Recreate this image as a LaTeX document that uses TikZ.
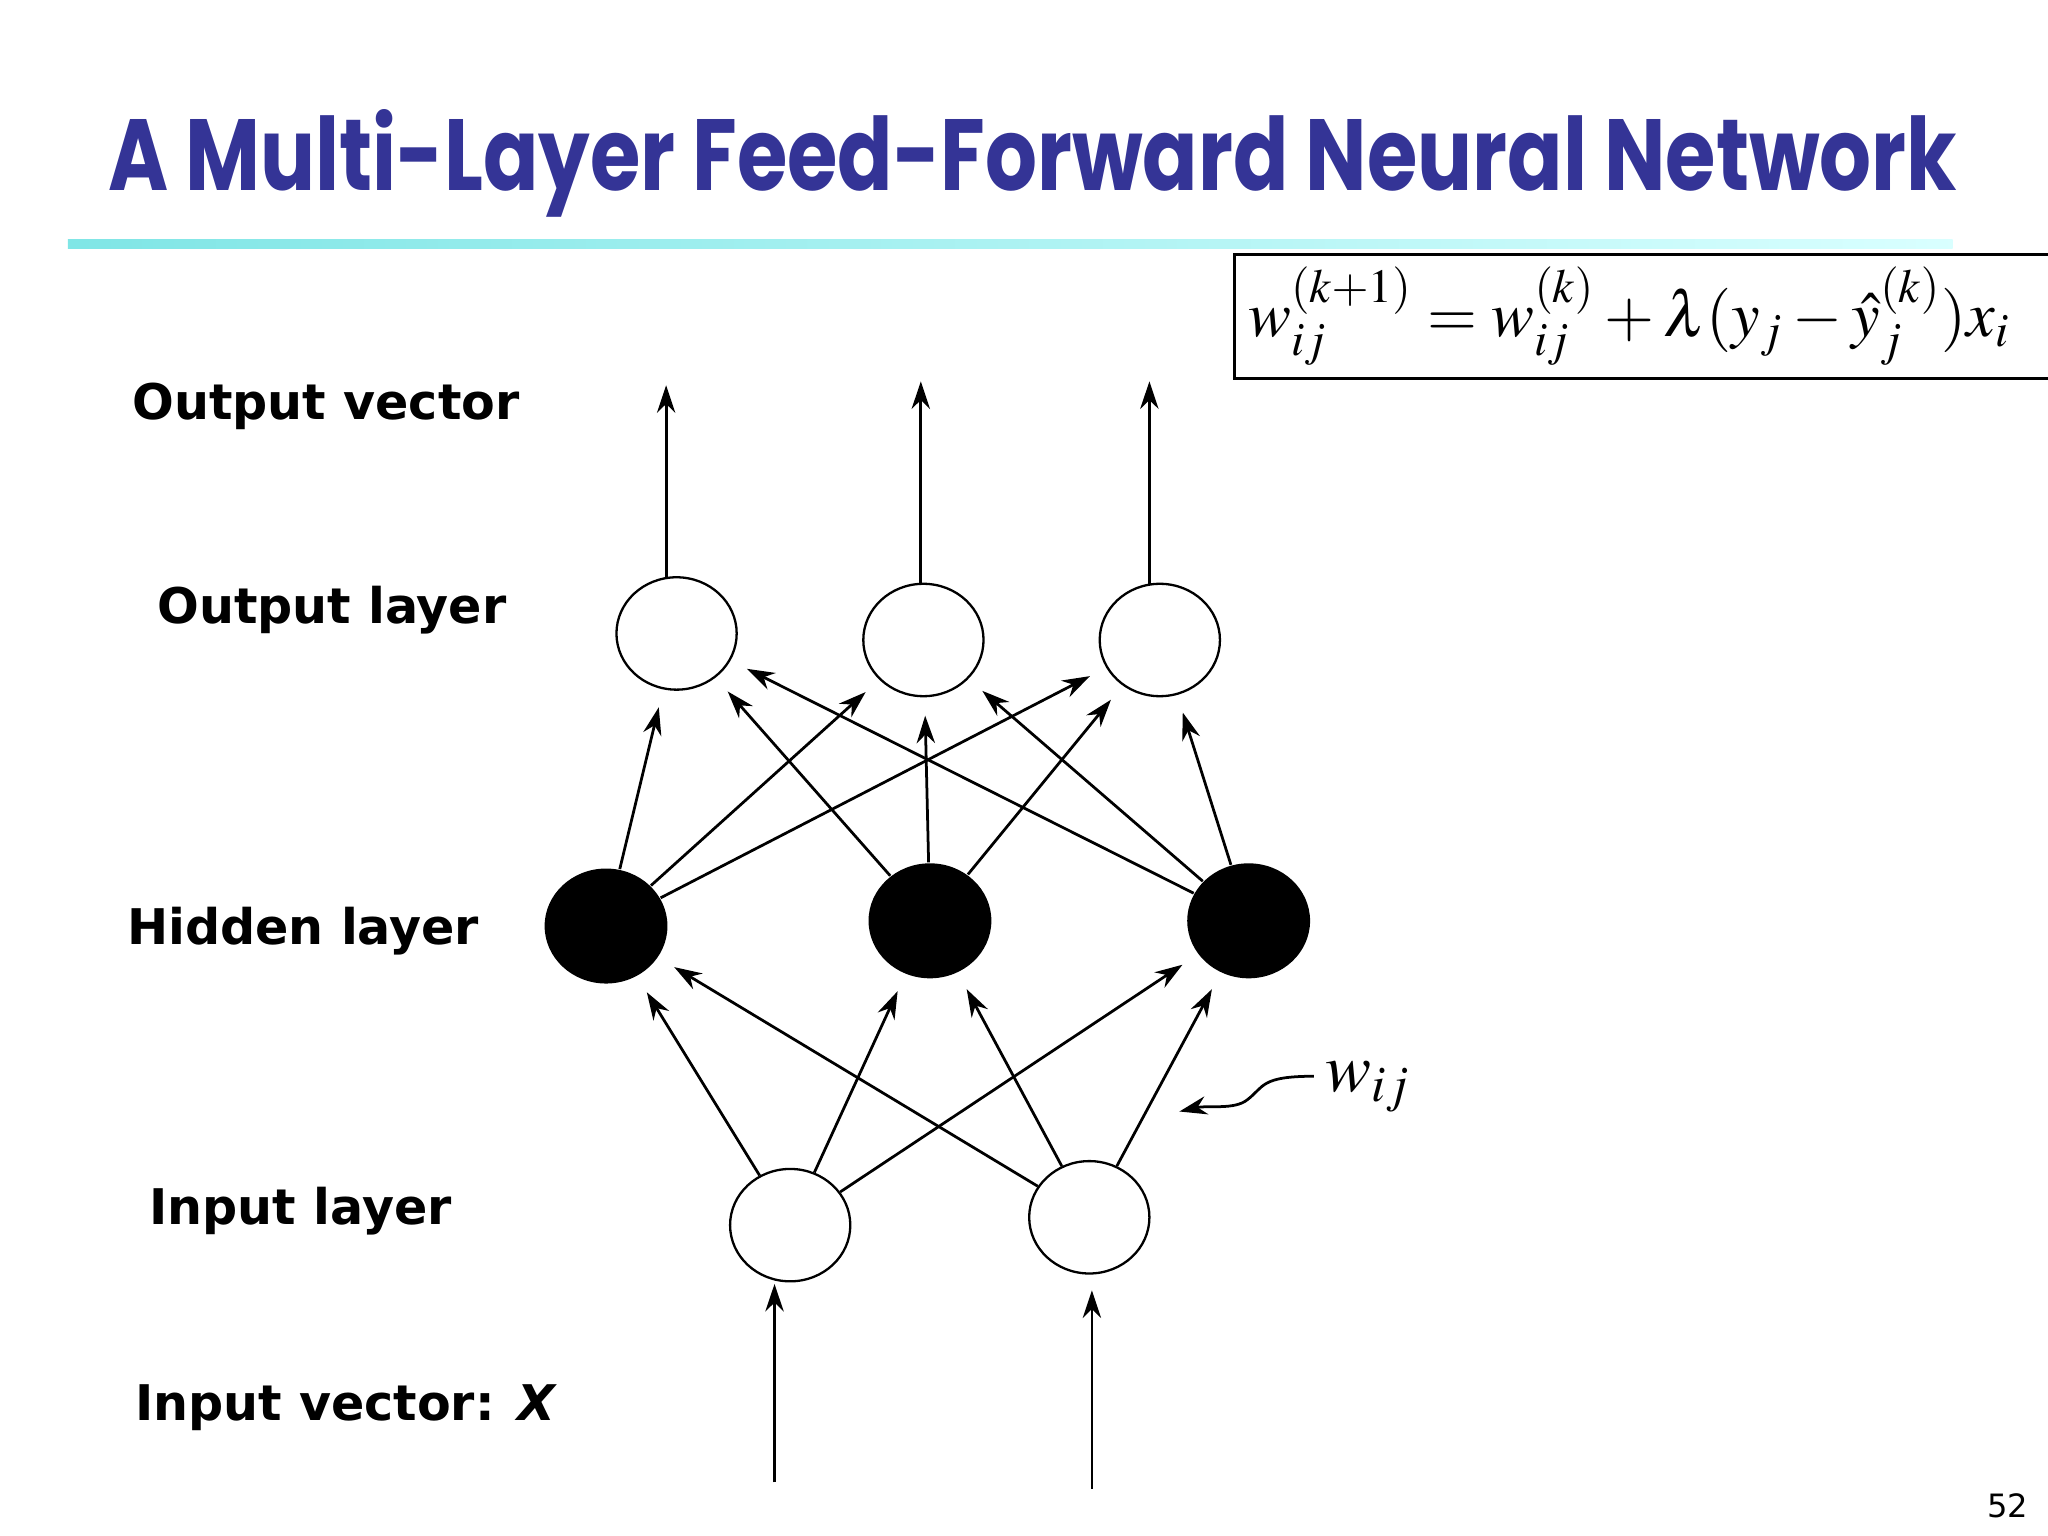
\documentclass[tikz,border=0pt]{standalone}
\usepackage{mathptmx}
\usepackage{fontspec}
\setmainfont{DejaVu Sans}
\newfontfamily\titlef{Poppins}
\usetikzlibrary{shapes.geometric,arrows.meta}
\definecolor{titleblue}{RGB}{52,52,150}
\begin{document}
\begin{tikzpicture}[x=0.01cm,y=-0.01cm,
  neuron/.style={ellipse,draw,line width=0.5pt,minimum width=0.92cm,minimum height=0.86cm,inner sep=0pt},
  hid/.style={ellipse,fill=black,minimum width=0.94cm,minimum height=0.88cm,inner sep=0pt},
  conn/.style={-{Stealth[length=6pt,width=4pt]},line width=0.6pt,shorten >=4pt},
  lab/.style={font=\fontsize{10.7pt}{13pt}\bfseries,anchor=west}]
\useasboundingbox (0,0) rectangle (1568,1176);
% title
\node[anchor=west,inner sep=0pt,text=titleblue] (title) at (82,125) {\resizebox{14.15cm}{0.62cm}{\titlef\bfseries A Multi-Layer Feed-Forward Neural Network}};
\shade[left color=teal!40!cyan!50,right color=cyan!15] (52,183) rectangle (1495,190);
% formula box
\draw[line width=0.6pt] (945,195) rectangle (1600,290);
\node[anchor=west,inner sep=0pt] (formula) at (955,242) {\fontsize{14pt}{17pt}\selectfont$w_{ij}^{(k+1)} = w_{ij}^{(k)} + \lambda(y_j - \hat{y}_j^{(k)})x_i$};
% labels
\node[lab] (l1) at (89,311) {Output vector};
\node[lab] (l2) at (108,467) {Output layer};
\node[lab] (l3) at (85,713) {Hidden layer};
\node[lab] (l4) at (102,927) {Input layer};
\node[lab] (l5) at (91,1078) {Input vector: \textit{X}};
% nodes
\node[neuron] (o1) at (518,485) {};
\node[neuron] (o2) at (707,490) {};
\node[neuron] (o3) at (888,490) {};
\node[hid] (h1) at (464,709) {};
\node[hid] (h2) at (712,705) {};
\node[hid] (h3) at (956,705) {};
\node[neuron] (i1) at (605,938) {};
\node[neuron] (i2) at (834,932) {};
% output vector
\coordinate (t1) at (510,295); \coordinate (t2) at (705,292); \coordinate (t3) at (880,292);
\draw[conn,shorten >=0pt] (510,443) -- (t1);
\draw[conn,shorten >=0pt] (705,447) -- (t2);
\draw[conn,shorten >=0pt] (880,447) -- (t3);
% input vector
\coordinate (b1) at (593,1135); \coordinate (b2) at (836,1140);
\draw[conn,shorten >=0pt] (b1) -- (593,983);
\draw[conn,shorten >=0pt] (b2) -- (836,988);
% hidden->output
\foreach \h in {h1,h2,h3}{\foreach \o in {o1,o2,o3}{\draw[conn] (\h) -- (\o);}}
% input->hidden
\foreach \i in {i1,i2}{\foreach \h in {h1,h2,h3}{\draw[conn] (\i) -- (\h);}}
% wij
\node[anchor=west,inner sep=0pt] (w) at (1014,832) {\fontsize{15pt}{18pt}\selectfont$w_{ij}$};
\coordinate (wa) at (903,851);
\draw[-{Stealth[length=6pt,width=4pt]},line width=0.6pt] (1006,824) .. controls (965,824) and (968,832) .. (955,842) .. controls (945,850) and (925,846) .. (wa);
\node (pg) at (1537,1153) {\fontsize{7pt}{8pt}\selectfont 52};
\end{tikzpicture}
\end{document}
